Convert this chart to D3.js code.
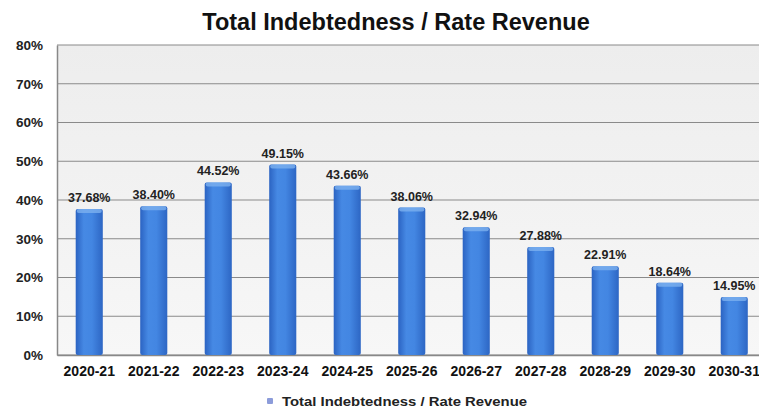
<!DOCTYPE html>
<html>
<head>
<meta charset="utf-8">
<script src="https://cdn.jsdelivr.net/npm/d3@7"></script>
<style>
  html, body { margin: 0; padding: 0; background: #fff; }
  svg { display: block; font-family: "Liberation Sans", Arial, sans-serif; }
</style>
</head>
<body>
<svg id="chart" width="759" height="412"></svg>
<script>
const categories = ["2020-21","2021-22","2022-23","2023-24","2024-25","2025-26","2026-27","2027-28","2028-29","2029-30","2030-31"];
const values = [37.68, 38.40, 44.52, 49.15, 43.66, 38.06, 32.94, 27.88, 22.91, 18.64, 14.95];
const yTicks = [0, 10, 20, 30, 40, 50, 60, 70, 80];
const titleText = "Total Indebtedness / Rate Revenue";
const seriesName = "Total Indebtedness / Rate Revenue";

const svg = d3.select("#chart");
const W = 759, H = 412;
const m = { left: 57, right: -7.5, top: 45, bottom: 57 };
const x0 = m.left, x1 = W - m.right, y0 = m.top, y1 = H - m.bottom;

const defs = svg.append("defs");
const bg = defs.append("linearGradient").attr("id", "bgGrad").attr("x1", 0).attr("y1", 0).attr("x2", 0).attr("y2", 1);
bg.append("stop").attr("offset", "0%").attr("stop-color", "#ededed");
bg.append("stop").attr("offset", "100%").attr("stop-color", "#f7f7f7");

const barGrad = defs.append("linearGradient").attr("id", "barGrad").attr("x1", 0).attr("y1", 0).attr("x2", 1).attr("y2", 0);
barGrad.append("stop").attr("offset", "0%").attr("stop-color", "#2b63c2");
barGrad.append("stop").attr("offset", "30%").attr("stop-color", "#4689e4");
barGrad.append("stop").attr("offset", "60%").attr("stop-color", "#4386e2");
barGrad.append("stop").attr("offset", "100%").attr("stop-color", "#2d66c4");

const x = d3.scaleBand().domain(categories).range([x0, x1]).paddingInner(0.58).paddingOuter(0.29);
const y = d3.scaleLinear().domain([0, 80]).range([y1, y0]);

// plot background
svg.append("rect").attr("x", x0).attr("y", y0).attr("width", x1 - x0).attr("height", y1 - y0).attr("fill", "url(#bgGrad)");

// gridlines
svg.append("g").selectAll("line").data(yTicks).join("line")
  .attr("x1", x0).attr("x2", x1)
  .attr("y1", d => y(d)).attr("y2", d => y(d))
  .attr("stroke", "#8a8a8a").attr("stroke-width", 1.2);

// y axis
const yAxis = svg.append("g").attr("transform", `translate(${x0},0)`)
  .call(d3.axisLeft(y).tickValues(yTicks).tickFormat(d => d + "%").tickSize(0).tickPadding(14));
yAxis.select(".domain").attr("stroke", "#888").attr("stroke-width", 1.5);
yAxis.selectAll("text").attr("font-size", 13.5).attr("font-weight", "bold").attr("fill", "#222")
  .attr("font-family", "Liberation Sans, Arial, sans-serif");

// x axis
const xAxis = svg.append("g").attr("transform", `translate(0,${y1})`)
  .call(d3.axisBottom(x).tickSize(0).tickPadding(11));
xAxis.select(".domain").attr("stroke", "#888").attr("stroke-width", 1.5);
xAxis.selectAll("text").attr("font-size", 14).attr("font-weight", "bold").attr("fill", "#111")
  .attr("font-family", "Liberation Sans, Arial, sans-serif");

// bars
const bars = svg.append("g");
bars.selectAll("rect.bar").data(values).join("rect").attr("class", "bar")
  .attr("x", (d, i) => x(categories[i]))
  .attr("y", d => y(d))
  .attr("width", x.bandwidth())
  .attr("height", d => y1 - y(d))
  .attr("rx", 2)
  .attr("fill", "url(#barGrad)");
bars.selectAll("rect.cap").data(values).join("rect").attr("class", "cap")
  .attr("x", (d, i) => x(categories[i]) + 1)
  .attr("y", d => y(d))
  .attr("width", x.bandwidth() - 2)
  .attr("height", 4)
  .attr("rx", 2)
  .attr("fill", "#7cb0ef").attr("opacity", 0.8);

// value labels
svg.append("g").selectAll("text").data(values).join("text")
  .attr("x", (d, i) => x(categories[i]) + x.bandwidth() / 2)
  .attr("y", d => y(d) - 7)
  .attr("text-anchor", "middle")
  .attr("font-size", 12.5).attr("font-weight", "bold").attr("fill", "#222")
  .text(d => d.toFixed(2) + "%");

// title
svg.append("text").attr("x", 396).attr("y", 30).attr("text-anchor", "middle")
  .attr("font-size", 23.5).attr("font-weight", "bold").attr("fill", "#111")
  .text(titleText);

// legend
const lg = svg.append("g").attr("transform", "translate(267,406)");
lg.append("rect").attr("x", 0).attr("y", -8).attr("width", 6).attr("height", 6).attr("rx", 1).attr("fill", "#8c9cda");
lg.append("text").attr("x", 15).attr("y", 0).attr("font-size", 13).attr("font-weight", "bold").attr("fill", "#222")
  .attr("textLength", 245).attr("lengthAdjust", "spacingAndGlyphs")
  .text(seriesName);
</script>
</body>
</html>
